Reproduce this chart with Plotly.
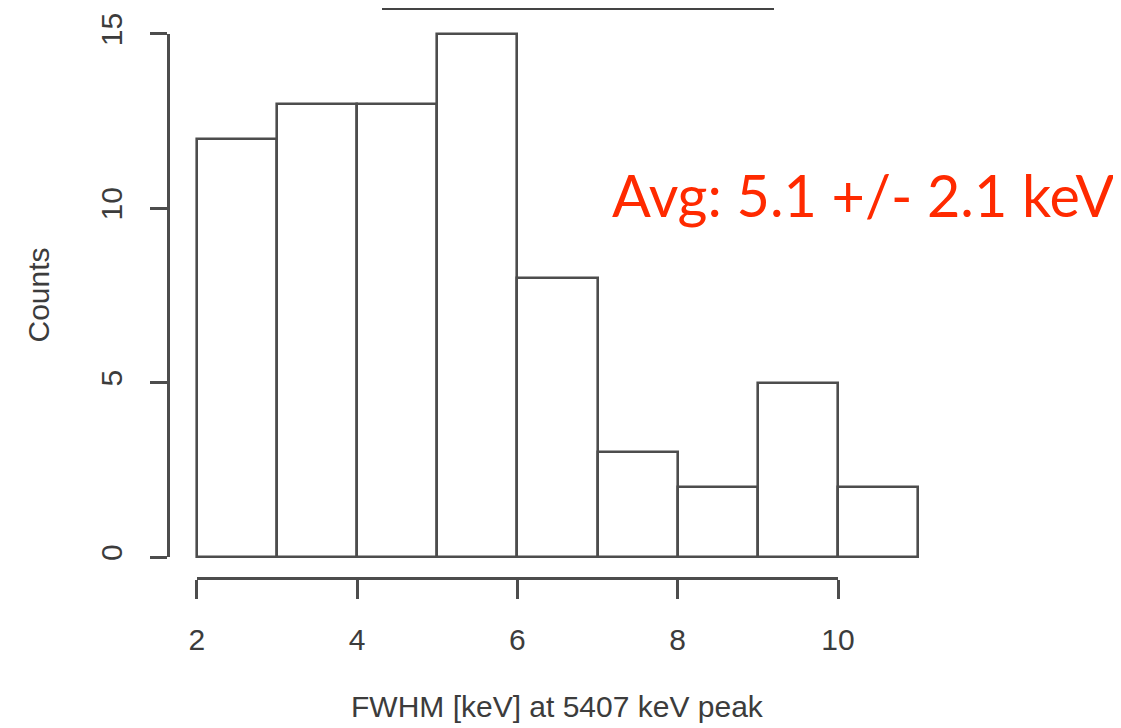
import plotly.graph_objects as go

# ---- data ----
bin_edges = [2, 3, 4, 5, 6, 7, 8, 9, 10, 11]
counts = [12, 13, 13, 15, 8, 3, 2, 5, 2]
x_ticks = [2, 4, 6, 8, 10]
y_ticks = [0, 5, 10, 15]
x_title = "FWHM [keV] at 5407 keV peak"
y_title = "Counts"
note = "Avg: 5.1 +/- 2.1 keV"

# ---- geometry (page body adds an 8px offset) ----
OFF = 8
W, H = 1121 - OFF, 728 - OFF
ML, MT = 168 - OFF, 13 - OFF
MB = H - (578 - OFF)
MR = W - (947 - OFF)
pw, ph = W - ML - MR, H - MT - MB

# R-style 4% padding on the data ranges
xr = [bin_edges[0] - 0.04 * (bin_edges[-1] - bin_edges[0]),
      bin_edges[-1] + 0.04 * (bin_edges[-1] - bin_edges[0])]
yr = [0 - 0.04 * max(counts), max(counts) + 0.04 * max(counts)]

def fx(v):
    return (v - xr[0]) / (xr[1] - xr[0])

def fy(v):
    return (v - yr[0]) / (yr[1] - yr[0])

def px_x(p):
    return (p - OFF - ML) / pw

def px_y(p):
    return (H - MB - (p - OFF)) / ph

centers = [(a + b) / 2 for a, b in zip(bin_edges[:-1], bin_edges[1:])]
widths = [b - a for a, b in zip(bin_edges[:-1], bin_edges[1:])]

LINE = "#4d4d4d"
TXT = "#3c3c3c"
FONT = "Liberation Sans, Arial, sans-serif"

fig = go.Figure()
fig.add_trace(go.Bar(
    x=centers, y=counts, width=widths,
    marker=dict(color="white", line=dict(color=LINE, width=2.6)),
    showlegend=False, hoverinfo="x+y",
))
# carrier trace for the R-style detached axes
fig.add_trace(go.Scatter(
    x=x_ticks, y=[y_ticks[0]] * len(x_ticks), xaxis="x2", yaxis="y2",
    mode="markers", marker=dict(opacity=0), showlegend=False, hoverinfo="skip",
))

fig.update_layout(
    width=W, height=H,
    margin=dict(l=ML, r=MR, t=MT, b=MB, pad=0),
    paper_bgcolor="white", plot_bgcolor="rgba(0,0,0,0)",
    bargap=0,
    xaxis=dict(range=xr, visible=False, domain=[0, 1], fixedrange=True, automargin=False),
    yaxis=dict(range=yr, visible=False, domain=[0, 1], fixedrange=True, automargin=False),
    xaxis2=dict(
        domain=[fx(x_ticks[0]), fx(x_ticks[-1])], range=[x_ticks[0], x_ticks[-1]],
        anchor="free", position=0, automargin=False, fixedrange=True,
        tickvals=x_ticks, ticktext=[str(v) for v in x_ticks],
        ticks="outside", ticklen=19, tickwidth=2.6, tickcolor=LINE,
        showline=True, linewidth=2.6, linecolor=LINE,
        showgrid=False, zeroline=False,
        tickfont=dict(family=FONT, size=30, color=TXT),
        ticklabelstandoff=15,
    ),
    yaxis2=dict(
        domain=[fy(y_ticks[0]), fy(y_ticks[-1])], range=[y_ticks[0], y_ticks[-1]],
        anchor="free", position=0, automargin=False, fixedrange=True,
        tickvals=y_ticks, ticktext=[str(v) for v in y_ticks],
        ticks="outside", ticklen=17, tickwidth=2.6, tickcolor=LINE,
        showline=True, linewidth=2.6, linecolor=LINE,
        showgrid=False, zeroline=False, tickangle=-90,
        tickfont=dict(family=FONT, size=30, color=TXT),
        ticklabelstandoff=16,
    ),
    annotations=[
        dict(text=x_title, xref="paper", yref="paper", x=0.5, y=px_y(706),
             xanchor="center", yanchor="middle", showarrow=False,
             font=dict(family=FONT, size=30, color=TXT)),
        dict(text=y_title, xref="paper", yref="paper", x=px_x(38), y=0.5,
             xanchor="center", yanchor="middle", showarrow=False, textangle=-90,
             font=dict(family=FONT, size=30, color=TXT)),
        dict(text=note, xref="paper", yref="paper", x=px_x(610), y=px_y(195),
             xanchor="left", yanchor="middle", showarrow=False,
             font=dict(family="Lato, sans-serif", size=57.5, color="#FF2A00")),
    ],
    shapes=[
        dict(type="line", xref="paper", yref="paper",
             x0=px_x(382), x1=px_x(774), y0=px_y(OFF + 1), y1=px_y(OFF + 1),
             line=dict(color="#444444", width=2)),
    ],
)

fig.write_html("out.html")
